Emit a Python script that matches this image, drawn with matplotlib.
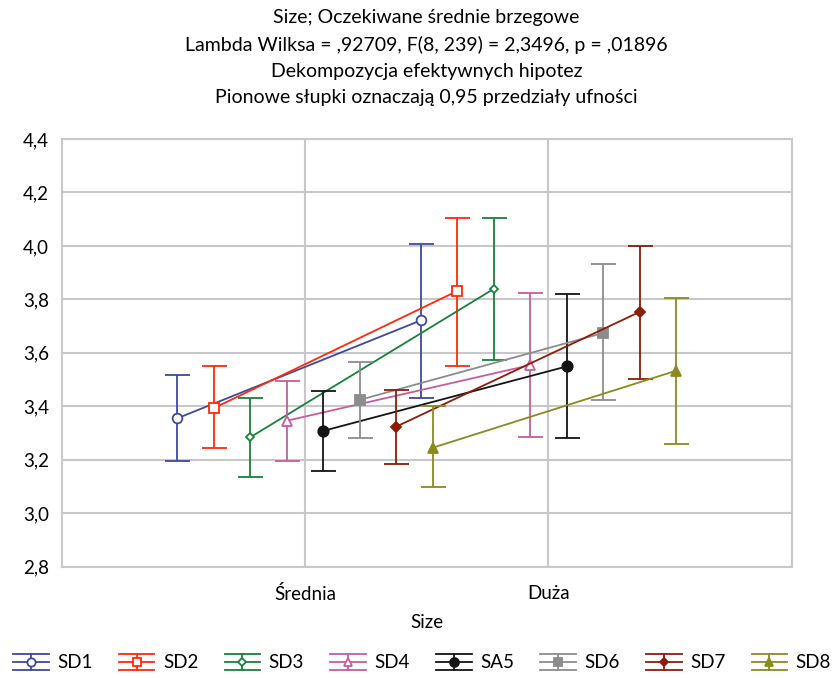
import numpy as np
import matplotlib
matplotlib.use("Agg")
from matplotlib import pyplot as plt
from matplotlib.legend_handler import HandlerBase
from matplotlib.lines import Line2D

plt.rcParams["font.family"] = ["Lato", "DejaVu Sans"]

categories = ["Średnia", "Duża"]
series = ["SD1", "SD2", "SD3", "SD4", "SA5", "SD6", "SD7", "SD8"]

# means for Średnia / Duża
mean_sr = [3.355, 3.393, 3.284, 3.346, 3.308, 3.424, 3.324, 3.245]
mean_du = [3.721, 3.831, 3.839, 3.554, 3.549, 3.674, 3.753, 3.533]
# 0.95 confidence limits
low_sr = [3.195, 3.243, 3.136, 3.194, 3.158, 3.280, 3.184, 3.097]
up_sr = [3.517, 3.551, 3.432, 3.495, 3.458, 3.566, 3.461, 3.402]
low_du = [3.432, 3.552, 3.574, 3.286, 3.283, 3.422, 3.503, 3.260]
up_du = [4.007, 4.103, 4.103, 3.824, 3.820, 3.932, 3.998, 3.805]

yticks = [2.8, 3.0, 3.2, 3.4, 3.6, 3.8, 4.0, 4.2, 4.4]

colors = ["#3d4a9c", "#ff2a0a", "#16823a", "#c65c9e",
          "#141414", "#8c8c8c", "#8c1c05", "#8a8a1e"]
markers = ["o", "s", "D", "^", "o", "s", "D", "^"]
filled = [False, False, False, False, True, True, True, True]
msizes = [7, 6.5, 4.5, 7, 7.5, 7, 5, 7]


class ErrHandler(HandlerBase):
    """Legend key: three horizontal lines with a marker in the middle."""

    def __init__(self, color, marker, mfc, ms):
        super().__init__()
        self.color, self.marker, self.mfc, self.ms = color, marker, mfc, ms

    def create_artists(self, legend, orig_handle, xdescent, ydescent,
                       width, height, fontsize, trans):
        x0, x1 = -xdescent, -xdescent + width
        yc = -ydescent + height / 2
        dy = height * 0.6
        arts = []
        for y in (yc - dy, yc, yc + dy):
            arts.append(Line2D([x0, x1], [y, y], color=self.color, lw=1.3))
        xm = (x0 + x1) / 2
        arts.append(Line2D([xm, xm], [yc - dy, yc + dy], color=self.color, lw=1.3))
        arts.append(Line2D([xm], [yc], marker=self.marker, color=self.color,
                           mfc=self.mfc, mec=self.color, ms=self.ms * 0.85,
                           mew=1.3))
        for a in arts:
            a.set_transform(trans)
        return arts


fig = plt.figure(figsize=(8.39, 6.78), dpi=100)
ax = fig.add_axes([0.0735, 0.1642, 0.8701, 0.6308])

x = np.array([1, 2])
handles = []
hmap = {}
for i, name in enumerate(series):
    off = (i - 3.5) * 0.15
    xs = x + off
    m = np.array([mean_sr[i], mean_du[i]])
    lo = np.array([low_sr[i], low_du[i]])
    hi = np.array([up_sr[i], up_du[i]])
    mfc = colors[i] if filled[i] else "white"
    ax.errorbar(xs, m, yerr=[m - lo, hi - m], color=colors[i], lw=1.3,
                elinewidth=1.3, capsize=9, capthick=1.3, marker=markers[i],
                ms=msizes[i], mfc=mfc, mec=colors[i], mew=1.3, zorder=3 + i)
    h = Line2D([], [], color=colors[i])
    handles.append(h)
    hmap[h] = ErrHandler(colors[i], markers[i], mfc, msizes[i])

ax.set_xlim(0, 3)
ax.set_ylim(2.8, 4.4)
ax.set_xticks(x)
ax.set_xticklabels(categories, fontsize=13.5)
ax.set_yticks(yticks)
ax.set_yticklabels([f"{t:.1f}".replace(".", ",") for t in yticks], fontsize=13.5)
ax.tick_params(axis="x", length=0, pad=13)
ax.tick_params(axis="y", length=0, pad=9)
ax.grid(True, color="#c8c8cc", lw=1.5, zorder=0)
for s in ax.spines.values():
    s.set_color("#c8c8cc")
    s.set_linewidth(1.5)
ax.set_xlabel("Size", fontsize=13.5, labelpad=8)

fig.text(0.5085, 0.986,
         "Size; Oczekiwane średnie brzegowe\n"
         "Lambda Wilksa = ,92709, F(8, 239) = 2,3496, p = ,01896\n"
         "Dekompozycja efektywnych hipotez\n"
         "Pionowe słupki oznaczają 0,95 przedziały ufności",
         ha="center", va="top", fontsize=14, linespacing=1.64)

fig.legend(handles, series, handler_map=hmap, loc="center",
           bbox_to_anchor=(0.503, 1 - 663 / 678), ncol=8, frameon=False,
           fontsize=13.5, handlelength=1.9, handletextpad=0.45,
           columnspacing=1.4, borderpad=0, borderaxespad=0)

fig.savefig("out.png", dpi=100)
